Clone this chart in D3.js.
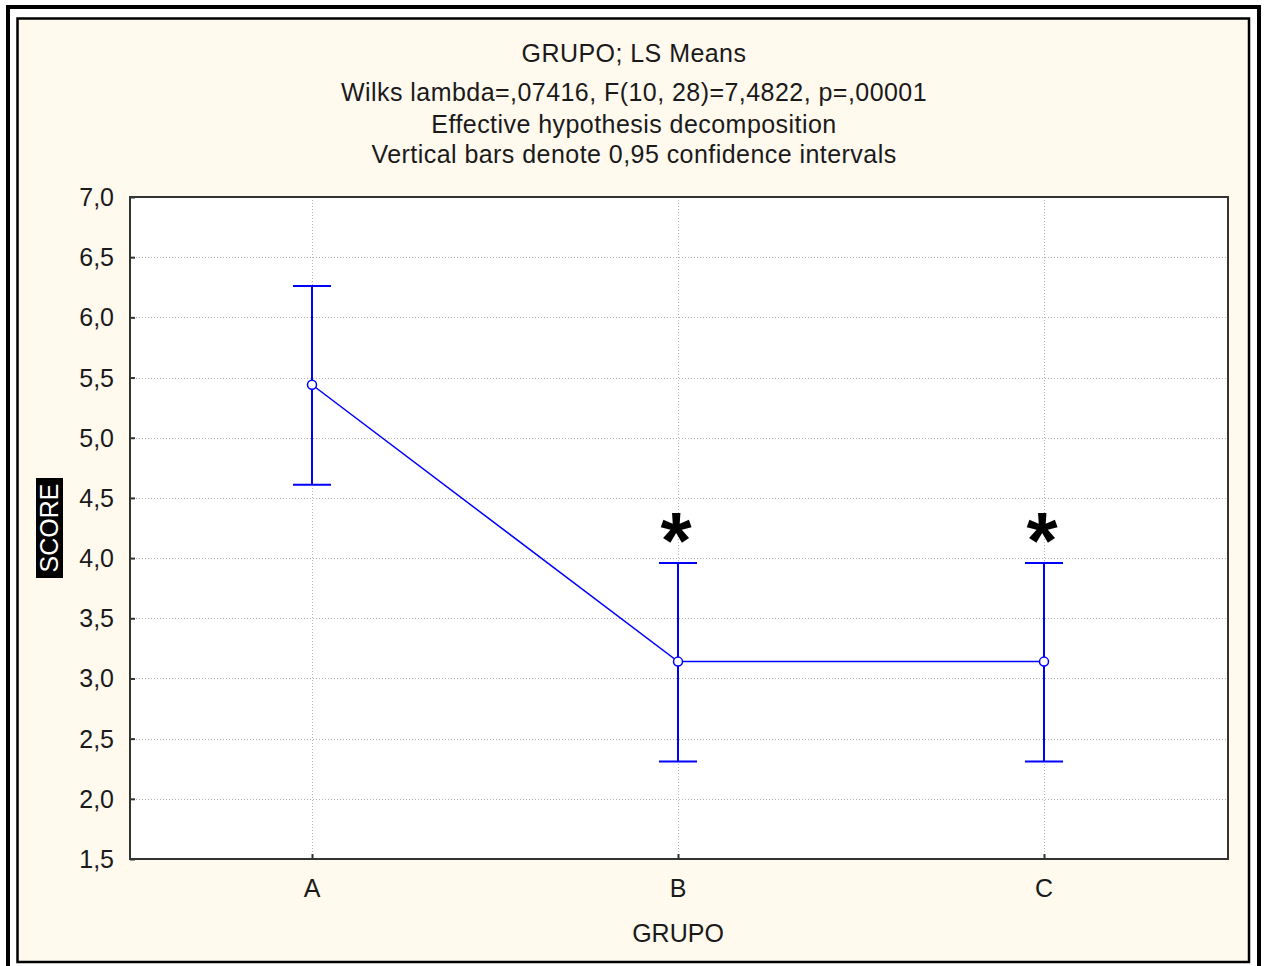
<!DOCTYPE html>
<html>
<head>
<meta charset="utf-8">
<script src="https://cdn.jsdelivr.net/npm/d3@7"></script>
<style>
  body { margin: 0; background: #fff; }
  svg { display: block; }
  text { font-family: "Liberation Sans", Arial, sans-serif; fill: #1a1a1a; }
</style>
</head>
<body>
<div id="chart"></div>
<script>
// data
const groups = ["A", "B", "C"];
const means = [5.44, 3.14, 3.14];
const lower = [4.61, 2.31, 2.31];
const upper = [6.26, 3.96, 3.96];
const marked = [false, true, true];   // asterisk above the bar
const yTicks = [1.5, 2.0, 2.5, 3.0, 3.5, 4.0, 4.5, 5.0, 5.5, 6.0, 6.5, 7.0];
const titleLines = [
    "GRUPO; LS Means",
    "Wilks lambda=,07416, F(10, 28)=7,4822, p=,00001",
    "Effective hypothesis decomposition",
    "Vertical bars denote 0,95 confidence intervals"
];
const xTitle = "GRUPO", yTitle = "SCORE";

let width = 1265, height = 966;
let plot = {left: 130, top: 197, right: 1228, bottom: 859};
let blue = "#0000ff";

let svg = d3.select("#chart").append("svg")
    .attr("width", width)
    .attr("height", height);

// frames
svg.append("rect")
    .attr("x", 8).attr("y", 7).attr("width", 1251).attr("height", 965)
    .attr("fill", "#fff").attr("stroke", "#000").attr("stroke-width", 4);
svg.append("rect")
    .attr("x", 17.5).attr("y", 18.5).attr("width", 1231.5).attr("height", 943.5)
    .attr("fill", "#fff9ee").attr("stroke", "#000").attr("stroke-width", 2.5);

// plot background
svg.append("rect")
    .attr("x", plot.left).attr("y", plot.top)
    .attr("width", plot.right - plot.left).attr("height", plot.bottom - plot.top)
    .attr("fill", "#fff");

let x = d3.scalePoint().domain(groups).range([plot.left - 1, plot.right - 1]).padding(0.5);
let y = d3.scaleLinear().domain([1.5, 7.0]).range([plot.bottom, plot.top]);
let fmt = v => d3.format(".1f")(v).replace(".", ",");

// grid
let grid = svg.append("g")
    .attr("stroke", "#b4b4b4").attr("stroke-width", 1).attr("stroke-dasharray", "1,2");
grid.selectAll(".hg").data(yTicks.slice(1, -1)).enter().append("line")
    .attr("x1", plot.left).attr("x2", plot.right)
    .attr("y1", d => Math.round(y(d)) + 0.5).attr("y2", d => Math.round(y(d)) + 0.5);
grid.selectAll(".vg").data(groups).enter().append("line")
    .attr("x1", d => Math.round(x(d)) + 0.5).attr("x2", d => Math.round(x(d)) + 0.5)
    .attr("y1", plot.top).attr("y2", plot.bottom);

// axes (ticks pointing inward)
let yAxis = svg.append("g")
    .attr("transform", "translate(" + plot.left + ",0)")
    .call(d3.axisRight(y).tickValues(yTicks).tickSize(5).tickFormat(""));
let xAxis = svg.append("g")
    .attr("transform", "translate(0," + plot.bottom + ")")
    .call(d3.axisTop(x).tickSize(5).tickFormat(""));
[yAxis, xAxis].forEach(a => {
    a.select(".domain").remove();
    a.selectAll("line").attr("stroke", "#333").attr("stroke-width", 2);
});

svg.append("rect")
    .attr("x", plot.left).attr("y", plot.top)
    .attr("width", plot.right - plot.left).attr("height", plot.bottom - plot.top)
    .attr("fill", "none").attr("stroke", "#333").attr("stroke-width", 2);

// tick labels
svg.selectAll(".ylab").data(yTicks).enter().append("text")
    .attr("x", 114).attr("y", d => y(d) + 9)
    .attr("text-anchor", "end").attr("font-size", 25)
    .text(fmt);
svg.selectAll(".xlab").data(groups).enter().append("text")
    .attr("x", d => x(d)).attr("y", 897)
    .attr("text-anchor", "middle").attr("font-size", 25)
    .text(d => d);

// axis titles
svg.append("text")
    .attr("x", x("B")).attr("y", 942)
    .attr("text-anchor", "middle").attr("font-size", 25)
    .text(xTitle);
svg.append("rect")
    .attr("x", 36).attr("y", 478).attr("width", 27).attr("height", 100)
    .attr("fill", "#000");
svg.append("text")
    .attr("transform", "translate(58,528) rotate(-90)")
    .attr("text-anchor", "middle").attr("font-size", 25)
    .style("fill", "#fff")
    .text(yTitle);

// titles
svg.selectAll(".title").data(titleLines).enter().append("text")
    .attr("x", 634).attr("y", (d, i) => [62, 101, 133, 163][i])
    .attr("text-anchor", "middle").attr("font-size", 25)
    .attr("letter-spacing", 0.45)
    .text(d => d);

// error bars
let bars = svg.append("g").attr("stroke", blue).attr("stroke-width", 2);
groups.forEach((g, i) => {
    bars.append("line")
        .attr("x1", x(g)).attr("x2", x(g))
        .attr("y1", y(lower[i])).attr("y2", y(upper[i]));
    [lower[i], upper[i]].forEach(v => {
        bars.append("line")
            .attr("x1", x(g) - 19).attr("x2", x(g) + 19)
            .attr("y1", y(v)).attr("y2", y(v));
    });
});

// mean line
let line = d3.line().x((d, i) => x(groups[i])).y(d => y(d));
svg.append("path")
    .datum(means)
    .attr("d", line)
    .attr("fill", "none").attr("stroke", blue).attr("stroke-width", 1.5);
svg.selectAll(".pt").data(means).enter().append("circle")
    .attr("cx", (d, i) => x(groups[i])).attr("cy", d => y(d))
    .attr("r", 4.5)
    .attr("fill", "#fff").attr("stroke", blue).attr("stroke-width", 1.5);

// asterisks
svg.selectAll(".star").data(groups.filter((g, i) => marked[i])).enter().append("text")
    .attr("x", d => x(d) - 2).attr("y", d => y(upper[groups.indexOf(d)]) + 5)
    .attr("text-anchor", "middle").attr("font-size", 80).attr("font-weight", "bold")
    .style("fill", "#000")
    .text("*");
</script>
</body>
</html>
